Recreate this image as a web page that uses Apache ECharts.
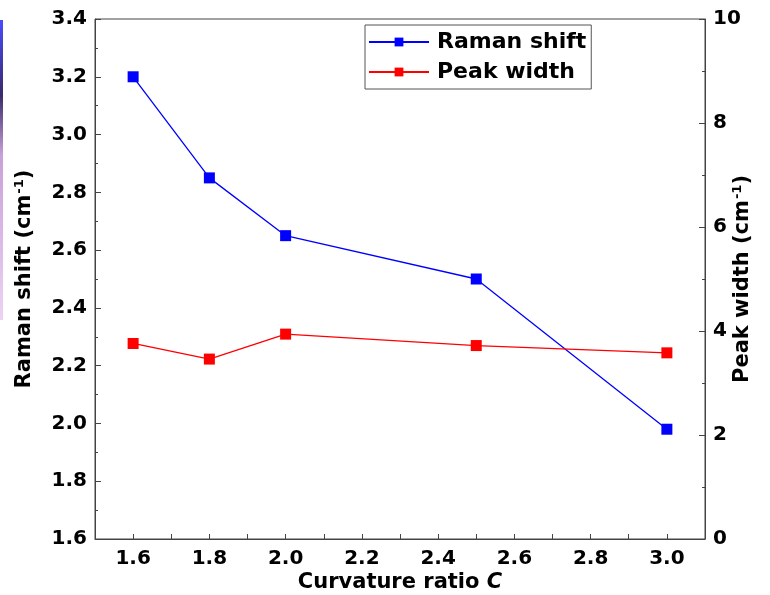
<!DOCTYPE html>
<html>
<head>
<meta charset="utf-8">
<script src="https://cdn.jsdelivr.net/npm/echarts@6/dist/echarts.min.js"></script>
<style>
    html, body {margin: 0; padding: 0; background: #fff;}
    #chart {width: 770px; height: 595px;}
</style>
</head>
<body>
<div id="chart"></div>
<script>
// ------------------ data ------------------
const curvature = [1.6, 1.8, 2.0, 2.5, 3.0];
const ramanShift = [3.20, 2.85, 2.65, 2.50, 1.98];   // cm-1, left axis
const peakWidth = [3.76, 3.46, 3.94, 3.72, 3.58];    // cm-1, right axis

const FONT = "'DejaVu Sans', 'Liberation Sans', Arial, sans-serif";
const AXIS_COLOR = '#444';

let myChart = echarts.init(document.getElementById('chart'), null, {renderer: 'canvas'});

function pairs(xs, ys) {
    return xs.map(function (x, i) { return [x, ys[i]]; });
}

let labelStyle = {color: '#000', fontFamily: FONT, fontWeight: 'bold', fontSize: 20};
let nameRich = {
    t: {color: '#000', fontFamily: FONT, fontWeight: 'bold', fontSize: 21},
    sup: {color: '#000', fontFamily: FONT, fontWeight: 'bold', fontSize: 13, padding: [0, 0, 11, 1]},
    it: {color: '#000', fontFamily: FONT, fontWeight: 'bold', fontStyle: 'italic', fontSize: 21}
};

let option = {
    animation: false,
    backgroundColor: '#fff',
    graphic: [{
        // thin coloured strip on the left edge of the original image
        type: 'rect',
        shape: {x: 0, y: 20, width: 3, height: 300},
        style: {
            fill: new echarts.graphic.LinearGradient(0, 0, 0, 1, [
                {offset: 0, color: '#4b4bff'},
                {offset: 0.25, color: '#3a2a6a'},
                {offset: 0.45, color: '#c9a0d8'},
                {offset: 1, color: '#ecd2f4'}
            ])
        }
    }],
    grid: {
        left: 95, right: 65, top: 19, bottom: 56,
        outerBoundsMode: 'none',
        containLabel: false,
        show: true, borderColor: AXIS_COLOR, borderWidth: 1
    },
    legend: {
        left: 365, top: 25,
        orient: 'vertical',
        backgroundColor: '#fff',
        borderColor: '#555', borderWidth: 1,
        borderRadius: 0,
        padding: [6, 5, 6, 3],
        itemGap: 8,
        itemWidth: 60, itemHeight: 11,
        textStyle: {color: '#000', fontFamily: FONT, fontWeight: 'bold', fontSize: 22, padding: [0, 0, 0, 3]},
        data: ['Raman shift', 'Peak width']
    },
    xAxis: {
        type: 'value',
        min: 1.5, max: 3.1, interval: 0.1,
        name: '{t|Curvature ratio }{it|C}',
        nameLocation: 'middle',
        nameGap: 33,
        nameMoveOverlap: false,
        nameTextStyle: {rich: nameRich},
        axisLine: {show: true, lineStyle: {color: AXIS_COLOR, width: 1}},
        axisTick: {show: true, inside: true, length: 5, lineStyle: {color: AXIS_COLOR}},
        splitLine: {show: false},
        axisLabel: Object.assign({
            margin: 10,
            formatter: function (v) {
                return (Math.round(v * 10) % 2 === 0) ? v.toFixed(1) : '';
            }
        }, labelStyle)
    },
    yAxis: [{
        type: 'value',
        position: 'left',
        min: 1.6, max: 3.4, interval: 0.2,
        name: '{t|Raman shift (cm}{sup|-1}{t|)}',
        nameLocation: 'middle',
        nameRotate: 90,
        nameGap: 58,
        nameMoveOverlap: false,
        nameTextStyle: {rich: nameRich},
        axisLine: {show: true, lineStyle: {color: AXIS_COLOR, width: 1}},
        axisTick: {show: true, inside: true, length: 6, lineStyle: {color: AXIS_COLOR}},
        minorTick: {show: true, splitNumber: 2, length: 3, lineStyle: {color: AXIS_COLOR}},
        splitLine: {show: false},
        axisLabel: Object.assign({margin: 8, formatter: function (v) { return v.toFixed(1); }}, labelStyle)
    }, {
        type: 'value',
        position: 'right',
        min: 0, max: 10, interval: 2,
        name: '{t|Peak width (cm}{sup|-1}{t|)}',
        nameLocation: 'middle',
        nameRotate: 90,
        nameGap: 26,
        nameMoveOverlap: false,
        nameTextStyle: {rich: nameRich},
        axisLine: {show: true, lineStyle: {color: AXIS_COLOR, width: 1}},
        axisTick: {show: true, inside: true, length: 6, lineStyle: {color: AXIS_COLOR}},
        minorTick: {show: true, splitNumber: 2, length: 3, lineStyle: {color: AXIS_COLOR}},
        splitLine: {show: false},
        axisLabel: Object.assign({margin: 8}, labelStyle)
    }],
    series: [{
        name: 'Raman shift',
        type: 'line',
        yAxisIndex: 0,
        symbol: 'rect',
        symbolSize: 11,
        color: '#0000ff',
        lineStyle: {width: 1.3, color: '#0000ff'},
        itemStyle: {color: '#0000ff'},
        data: pairs(curvature, ramanShift)
    }, {
        name: 'Peak width',
        type: 'line',
        yAxisIndex: 1,
        symbol: 'rect',
        symbolSize: 11,
        color: '#ff0000',
        lineStyle: {width: 1.3, color: '#ff0000'},
        itemStyle: {color: '#ff0000'},
        data: pairs(curvature, peakWidth)
    }]
};

myChart.setOption(option, true);
</script>
</body>
</html>
